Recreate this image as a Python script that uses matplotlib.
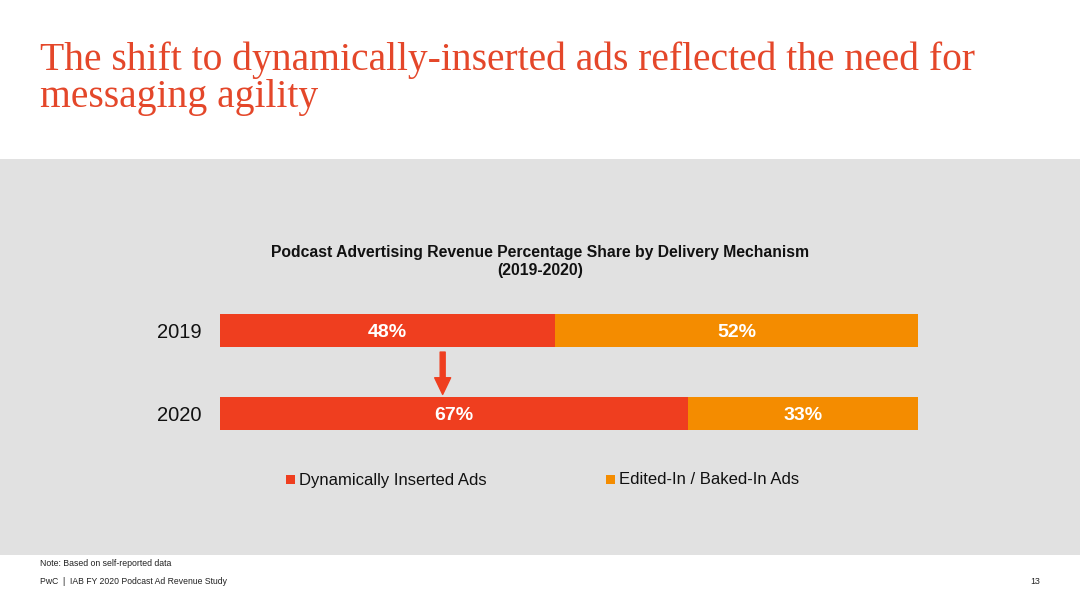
import matplotlib
matplotlib.use("Agg")
import matplotlib.pyplot as plt
from matplotlib.patches import Rectangle

years = ["2019", "2020"]
dynamic = [48, 67]
baked = [52, 33]
series_names = ["Dynamically Inserted Ads", "Edited-In / Baked-In Ads"]

RED = "#EF3E1F"
ORANGE = "#F48C00"
TITLE_RED = "#E4472A"
PANEL = "#E1E1E1"

W, H = 1080, 607
fig = plt.figure(figsize=(W / 100, H / 100), dpi=100)
fig.patch.set_facecolor("white")

def fx(px):
    return px / W

def fy(py):
    return 1 - py / H

# gray panel
fig.patches.append(Rectangle((0, fy(555)), 1, fy(159) - fy(555), transform=fig.transFigure,
                             facecolor=PANEL, edgecolor="none", zorder=-5))

# slide title
fig.text(fx(40), fy(70), "The shift to dynamically-inserted ads reflected the need for",
         fontsize=28.5, family="Liberation Serif", color=TITLE_RED, ha="left", va="baseline")
fig.text(fx(40), fy(107), "messaging agility",
         fontsize=28.5, family="Liberation Serif", color=TITLE_RED, ha="left", va="baseline")

# chart title
fig.text(0.5, fy(253), "Podcast Advertising Revenue Percentage Share by Delivery Mechanism",
         fontsize=11.3, fontweight="bold", family="Liberation Sans", color="#111111",
         ha="center", va="center")
fig.text(0.5, fy(271), "(2019-2020)",
         fontsize=11.3, fontweight="bold", family="Liberation Sans", color="#111111",
         ha="center", va="center")

# bars axes
ax = fig.add_axes([fx(220), fy(455), fx(918) - fx(220), fy(289) - fy(455)])
ax.set_facecolor("none")
ypos = list(range(len(years)))
ax.barh(ypos, dynamic, height=0.4, color=RED, label=series_names[0])
ax.barh(ypos, baked, left=dynamic, height=0.4, color=ORANGE, label=series_names[1])
ax.set_xlim(0, 100)
ax.set_ylim(1.5, -0.5)
for s in ax.spines.values():
    s.set_visible(False)
ax.set_xticks([])
ax.set_yticks(ypos)
ax.set_yticklabels(years, fontsize=14.5, family="Liberation Sans", color="#111111")
ax.tick_params(axis="y", length=0, pad=13)

for i in ypos:
    ax.text(dynamic[i] / 2, i + 0.03, f"{dynamic[i]}%", color="white", fontsize=14,
            fontweight="bold", family="Liberation Sans", ha="center", va="center")
    ax.text(dynamic[i] + baked[i] / 2, i + 0.03, f"{baked[i]}%", color="white", fontsize=14,
            fontweight="bold", family="Liberation Sans", ha="center", va="center")

# arrow
ax.annotate("", xy=(31.9, 0.77), xytext=(31.9, 0.26),
            arrowprops=dict(width=3.6, headwidth=11.5, headlength=12,
                            color=RED, shrink=0))

# legend (manual, aligned on a common baseline)
legend_x = [286, 606]
for name, color, lx in zip(series_names, [RED, ORANGE], legend_x):
    fig.patches.append(Rectangle((fx(lx), fy(484)), fx(9), fy(475) - fy(484),
                                 transform=fig.transFigure, facecolor=color,
                                 edgecolor="none", zorder=2))
    fig.text(fx(lx + 13), fy(484.5), name, fontsize=12, family="Liberation Sans",
             color="#111111", ha="left", va="baseline")

# footer
fig.text(fx(40), fy(564), "Note: Based on self-reported data", fontsize=6.3,
         family="Liberation Sans", color="#222222", ha="left", va="center")
fig.text(fx(40), fy(582), "PwC  |  IAB FY 2020 Podcast Ad Revenue Study", fontsize=6.2,
         family="Liberation Sans", color="#222222", ha="left", va="center")
fig.text(fx(1040), fy(582), "13", fontsize=6.3,
         family="Liberation Sans", color="#222222", ha="right", va="center")

fig.savefig("out.png", dpi=100)
